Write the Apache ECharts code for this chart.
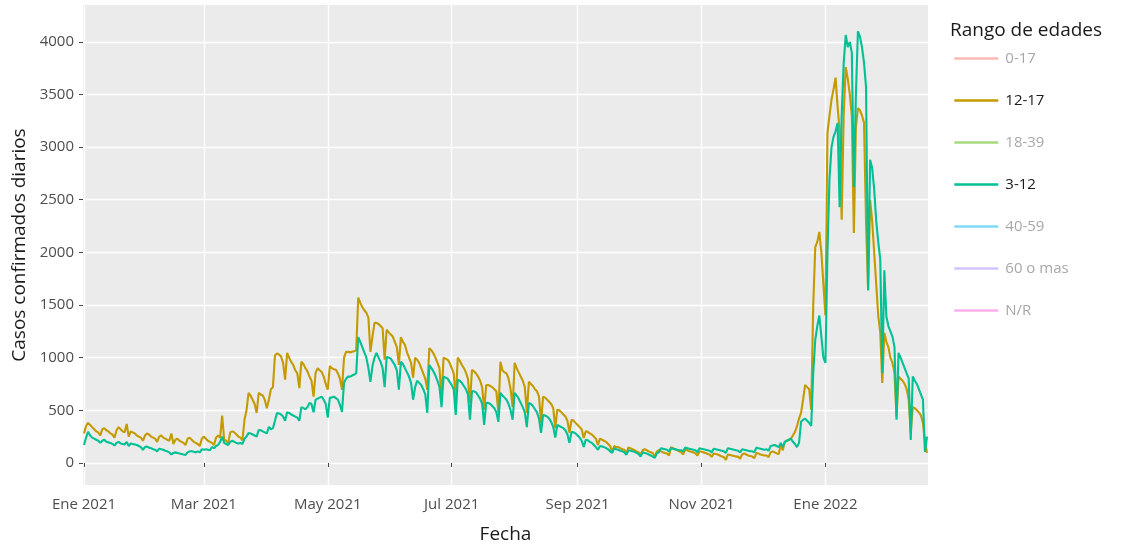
<!DOCTYPE html>
<html><head><meta charset="utf-8">
<script src="https://cdn.jsdelivr.net/npm/echarts@6/dist/echarts.min.js"></script>
<style>html,body{margin:0;padding:0;background:#fff}#chart{width:1128px;height:549px}</style>
</head><body><div id="chart"></div>
<script>
// daily series starting on this date
const startDate = [2021, 0, 1];
const groups = ['0-17', '12-17', '18-39', '3-12', '40-59', '60 o mas', 'N/R'];
const groupColors = ['#F8766D', '#C49A00', '#53B400', '#00C094', '#00B6EB', '#A58AFF', '#FB61D7'];
const fadedColors = ['#FBBAB6', '#E1CC7F', '#A9D97F', '#7FDFC9', '#7FDAF5', '#D2C4FF', '#FDB0EB'];
const shownGroups = ['12-17', '3-12'];

// 12-17, one row per week
const cases12to17 = [
280,350,380,360,340,320,300,
290,260,320,330,310,300,280,
270,240,310,340,320,300,290,
370,250,300,290,280,260,250,
240,210,260,280,270,250,240,
230,200,250,260,240,230,220,
210,280,180,220,230,210,200,
190,170,230,240,220,200,190,
180,160,230,250,230,210,200,
190,170,240,260,240,450,220,
210,190,290,300,290,270,250,
240,215,410,500,665,640,600,
560,475,665,650,640,600,520,
600,700,720,1020,1040,1030,1010,
950,790,1045,1000,960,930,880,
850,710,960,940,900,870,820,
780,630,855,900,880,865,820,
750,695,920,900,890,885,850,
800,695,1000,1055,1055,1050,1055,
1060,1070,1570,1520,1480,1450,1425,
1380,1055,1200,1330,1330,1320,1300,
1280,980,1265,1240,1220,1200,1150,
1100,930,1195,1150,1120,1050,1000,
950,810,1000,980,950,900,850,
800,695,1090,1070,1040,1000,950,
900,600,1000,990,980,950,900,
850,600,1000,970,930,900,860,
800,570,885,870,850,820,780,
720,505,740,740,730,720,700,
680,475,960,880,860,850,800,
700,530,950,900,860,820,780,
720,475,770,750,730,700,680,
630,380,630,620,600,580,560,
520,330,505,500,480,460,440,
400,285,410,400,380,360,340,
320,237,300,295,280,270,250,
230,170,230,220,210,200,180,
160,105,160,150,150,140,130,
125,90,145,140,130,120,110,
100,76,120,130,120,110,100,
95,57,110,120,110,100,95,
90,70,150,140,130,120,110,
100,80,130,120,110,105,100,
90,70,110,105,100,95,85,
80,57,90,85,80,70,60,
55,28,80,75,70,65,60,
60,40,80,90,80,70,65,
60,45,95,90,80,75,70,
70,55,100,110,100,90,85,
170,120,200,210,218,230,260,
295,350,420,475,600,740,720,
700,505,1500,2050,2100,2195,2000,
1700,1400,3135,3300,3450,3550,3660,
3380,3160,2310,3300,3760,3650,3500,
3300,2185,3190,3370,3350,3300,3230,
2280,1640,2500,2300,2000,1700,1400,
1235,760,1235,1150,1100,1000,950,
850,440,820,800,780,750,700,
600,285,530,520,500,480,450,
380,200,95
];

// 3-12, one row per week
const cases3to12 = [
170,240,295,260,240,230,220,
210,190,210,220,200,195,190,
180,165,190,200,185,180,175,
200,160,185,180,175,170,160,
150,125,150,155,145,140,130,
125,110,135,130,125,115,110,
100,80,95,100,95,90,85,
80,76,100,110,110,105,100,
110,100,130,125,130,125,120,
150,140,160,170,200,250,190,
180,170,200,210,200,190,185,
190,180,230,250,285,280,270,
260,250,313,310,300,290,280,
342,320,330,400,475,470,460,
440,400,480,475,460,450,440,
430,400,530,520,510,530,570,
560,480,600,610,620,630,600,
560,430,620,620,630,615,600,
550,485,760,800,820,820,830,
840,850,1195,1150,1100,1050,1000,
900,770,920,1000,1045,1000,960,
900,720,1005,1000,990,960,930,
880,695,960,940,900,860,820,
760,600,720,780,760,740,700,
650,475,930,900,870,830,780,
720,530,820,810,800,770,740,
700,455,790,780,760,730,700,
650,410,680,680,670,640,610,
560,360,570,570,560,540,520,
480,390,665,640,620,600,560,
500,410,665,640,610,570,530,
480,340,570,560,540,510,480,
420,285,455,450,440,420,390,
340,240,360,350,340,330,310,
270,190,295,290,280,260,240,
210,152,220,215,200,190,170,
150,124,160,155,150,140,130,
110,95,140,130,125,115,110,
100,76,120,115,110,105,95,
85,60,100,95,90,80,70,
60,48,90,100,140,135,130,
125,110,140,135,130,125,120,
120,110,145,140,135,130,125,
120,100,140,135,130,125,120,
115,100,135,130,125,120,115,
110,95,140,135,130,125,120,
115,100,130,125,120,115,110,
110,100,145,140,135,130,125,
130,115,160,165,170,160,150,
190,150,200,210,220,230,200,
180,150,190,390,410,420,400,
380,350,855,1170,1300,1400,1200,
1000,950,2000,2700,3000,3100,3150,
3230,2430,3300,3800,4065,3950,4000,
3895,2620,3500,4100,4050,3950,3800,
3570,1640,2880,2800,2600,2300,2100,
1930,855,1830,1390,1300,1250,1200,
1100,410,1045,1000,950,900,850,
800,218,820,780,750,700,650,
600,105,250
];

const xTickDates = ['2021-01-01', '2021-03-01', '2021-05-01', '2021-07-01', '2021-09-01', '2021-11-01', '2022-01-01'];
const xTickLabels = ['Ene 2021', 'Mar 2021', 'May 2021', 'Jul 2021', 'Sep 2021', 'Nov 2021', 'Ene 2022'];
const yTicks = [0, 500, 1000, 1500, 2000, 2500, 3000, 3500, 4000];

const DAY = 86400000;
const t0 = Date.UTC(startDate[0], startDate[1], startDate[2]);
const toSeries = arr => arr.map((v, i) => [t0 + i * DAY, v]);
const tickTimes = xTickDates.map(s => { const p = s.split('-').map(Number); return Date.UTC(p[0], p[1] - 1, p[2]); });
const valuesByGroup = { '12-17': cases12to17, '3-12': cases3to12 };

const chart = echarts.init(document.getElementById('chart'), null, { renderer: 'canvas' });
const FONT = '"Open Sans", "Noto Sans", sans-serif';

const series = groups.map((g, i) => {
  const shown = shownGroups.includes(g);
  return {
    name: g,
    type: 'line',
    symbol: 'none',
    showSymbol: false,
    animation: false,
    color: shown ? groupColors[i] : fadedColors[i],
    lineStyle: { width: 2.1, color: shown ? groupColors[i] : fadedColors[i] },
    z: 2 + i,
    data: shown ? toSeries(valuesByGroup[g]) : []
  };
});

chart.setOption({
  animation: false,
  backgroundColor: '#ffffff',
  textStyle: { fontFamily: FONT },
  title: {
    text: 'Rango de edades', left: 950, top: 21, padding: 0,
    textStyle: { fontFamily: FONT, fontSize: 19, fontWeight: 'normal', color: '#1a1a1a' }
  },
  legend: {
    orient: 'vertical', left: 953, top: 51, padding: 0,
    itemWidth: 44, itemHeight: 14, itemGap: 27,
    selectedMode: false,
    itemStyle: { opacity: 0 },
    lineStyle: { width: 2.6 },
    data: groups.map(g => ({
      name: g,
      textStyle: { color: shownGroups.includes(g) ? '#1a1a1a' : '#a8a8a8' }
    })),
    textStyle: { fontFamily: FONT, fontSize: 15, padding: [0, 0, 0, 2] }
  },
  grid: { left: 83, right: 200, top: 5, bottom: 64, show: true, backgroundColor: '#EBEBEB', borderWidth: 0, containLabel: false, outerBoundsMode: 'none' },
  xAxis: {
    type: 'value',
    min: t0 - 0.5 * DAY,
    max: t0 + 415.5 * DAY,
    name: 'Fecha', nameLocation: 'middle', nameGap: 40,
    nameTextStyle: { fontFamily: FONT, fontSize: 19, color: '#1a1a1a' },
    axisLine: { show: false },
    axisTick: { show: true, length: 4, lineStyle: { color: '#444', width: 1 }, customValues: tickTimes },
    axisLabel: {
      customValues: tickTimes, margin: 12, fontFamily: FONT, fontSize: 15, color: '#4D4D4D',
      formatter: v => { const k = tickTimes.indexOf(v); return k >= 0 ? xTickLabels[k] : ''; }
    },
    splitLine: { show: true, lineStyle: { color: '#ffffff', width: 1.4 } }
  },
  yAxis: {
    type: 'value',
    min: -210, max: 4350,
    name: 'Casos confirmados diarios', nameLocation: 'middle', nameGap: 50,
    nameTextStyle: { fontFamily: FONT, fontSize: 19, color: '#1a1a1a' },
    axisLine: { show: false },
    axisTick: { show: true, length: 4, lineStyle: { color: '#444', width: 1 }, customValues: yTicks },
    axisLabel: { customValues: yTicks, margin: 9, fontFamily: FONT, fontSize: 15, color: '#4D4D4D', formatter: v => String(v) },
    splitLine: { show: true, lineStyle: { color: '#ffffff', width: 1.4 } }
  },
  series: series
});
</script></body></html>
